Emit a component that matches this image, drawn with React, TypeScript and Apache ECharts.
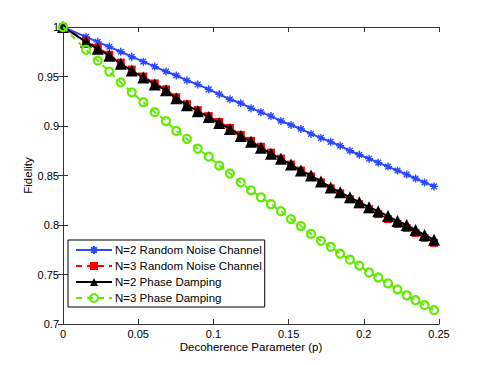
import React, { useEffect, useRef } from "react";
import * as echarts from "echarts";

const pValues = [0, 0.0153, 0.0231, 0.0308, 0.0384, 0.0457, 0.0534, 0.061, 0.0685, 0.0753, 0.0824, 0.0896, 0.0969, 0.1039, 0.111, 0.1182, 0.125, 0.1316, 0.1383, 0.1449, 0.1516, 0.1582, 0.1649, 0.1715, 0.178, 0.1843, 0.1908, 0.197, 0.2035, 0.2096, 0.2161, 0.2224, 0.2285, 0.2344, 0.2404, 0.2467];

const n2Random = [1.0, 0.99, 0.985, 0.98, 0.975, 0.97, 0.965, 0.96, 0.955, 0.951, 0.946, 0.942, 0.937, 0.932, 0.927, 0.923, 0.918, 0.914, 0.91, 0.905, 0.901, 0.897, 0.892, 0.888, 0.884, 0.88, 0.875, 0.871, 0.867, 0.863, 0.859, 0.855, 0.851, 0.847, 0.843, 0.839];

const n3Random = [1.0, 0.986, 0.979, 0.972, 0.964, 0.957, 0.95, 0.943, 0.937, 0.929, 0.922, 0.916, 0.91, 0.904, 0.898, 0.891, 0.885, 0.879, 0.873, 0.867, 0.861, 0.855, 0.849, 0.843, 0.837, 0.832, 0.826, 0.821, 0.816, 0.811, 0.806, 0.801, 0.797, 0.792, 0.787, 0.782];

const n2Phase = [1.0, 0.985, 0.978, 0.971, 0.963, 0.956, 0.949, 0.942, 0.936, 0.928, 0.921, 0.915, 0.909, 0.903, 0.897, 0.89, 0.884, 0.878, 0.872, 0.867, 0.861, 0.855, 0.85, 0.844, 0.838, 0.833, 0.828, 0.823, 0.818, 0.814, 0.809, 0.804, 0.8, 0.795, 0.79, 0.785];

const n3Phase = [1.0, 0.977, 0.966, 0.955, 0.944, 0.934, 0.924, 0.914, 0.905, 0.895, 0.887, 0.877, 0.869, 0.86, 0.852, 0.843, 0.835, 0.828, 0.821, 0.814, 0.806, 0.799, 0.791, 0.784, 0.778, 0.771, 0.765, 0.759, 0.752, 0.747, 0.741, 0.735, 0.729, 0.724, 0.719, 0.714];

const seriesNames = [
  "N=2 Random Noise Channel",
  "N=3 Random Noise Channel",
  "N=2 Phase Damping",
  "N=3 Phase Damping",
];

const xAxisTitle = "Decoherence Parameter (p)";
const yAxisTitle = "Fidelity";

const FONT = "'Liberation Sans', Arial, Helvetica, sans-serif";
const BLUE = "#2a48ff";
const RED = "#ff0000";
const BLACK = "#000000";
const GREEN = "#62ea00";
const AXIS = "#333333";

function pairs(ys: number[]) {
  return pValues.map((x, i) => [x, ys[i]]);
}

export default function App() {
  const ref = useRef<HTMLDivElement>(null);
  useEffect(() => {
    if (!ref.current) return;
    const chart = echarts.init(ref.current, undefined, { renderer: "svg" });
    const axisCommon = {
      axisLine: { show: true, lineStyle: { color: AXIS, width: 1 } },
      axisTick: { show: true, inside: true, length: 5, lineStyle: { color: AXIS } },
      splitLine: { show: false },
    };
    chart.setOption({
      animation: false,
      backgroundColor: "#ffffff",
      grid: { left: 63, top: 27, right: 46, bottom: 41, containLabel: false },
      legend: {
        orient: "vertical",
        left: 68,
        top: 240,
        backgroundColor: "#ffffff",
        borderColor: "#000000",
        borderWidth: 1,
        padding: [4, 3, 3, 7],
        itemWidth: 36,
        itemHeight: 10,
        itemGap: 4,
        textStyle: { fontFamily: FONT, fontSize: 11.5, color: "#000", lineHeight: 12, padding: [0, 0, 0, -2] },
        data: seriesNames,
      },
      xAxis: [
        {
          type: "value",
          min: 0,
          max: 0.25,
          interval: 0.05,
          name: xAxisTitle,
          nameLocation: "middle",
          nameGap: 17,
          nameMoveOverlap: false,
          nameTextStyle: { fontFamily: FONT, fontSize: 11.5, color: "#000" },
          axisLabel: { fontFamily: FONT, fontSize: 11, color: "#000", margin: 4 },
          ...axisCommon,
        },
        {
          type: "value",
          position: "top",
          min: 0,
          max: 0.25,
          interval: 0.05,
          axisLabel: { show: false },
          ...axisCommon,
        },
      ],
      yAxis: [
        {
          type: "value",
          min: 0.7,
          max: 1,
          interval: 0.05,
          name: yAxisTitle,
          nameLocation: "middle",
          nameGap: 29,
          nameMoveOverlap: false,
          nameTextStyle: { fontFamily: FONT, fontSize: 11.5, color: "#000" },
          axisLabel: { fontFamily: FONT, fontSize: 11, color: "#000", margin: 4 },
          ...axisCommon,
        },
        {
          type: "value",
          position: "right",
          min: 0.7,
          max: 1,
          interval: 0.05,
          axisLabel: { show: false },
          ...axisCommon,
        },
      ],
      series: [
        {
          name: seriesNames[0],
          type: "line",
          data: pairs(n2Random),
          color: BLUE,
          symbol: "path://M0,5L10,5M5,0L5,10M1.5,1.5L8.5,8.5M8.5,1.5L1.5,8.5",
          symbolSize: 8,
          showAllSymbol: true,
          lineStyle: { color: BLUE, width: 2 },
          itemStyle: { color: BLUE, borderColor: BLUE, borderWidth: 1.4 },
          z: 2,
        },
        {
          name: seriesNames[1],
          type: "line",
          data: pairs(n3Random),
          color: RED,
          symbol: "rect",
          symbolSize: 8,
          showAllSymbol: true,
          lineStyle: { color: RED, width: 2, type: [6, 5] },
          itemStyle: { color: RED },
          z: 3,
        },
        {
          name: seriesNames[2],
          type: "line",
          data: pairs(n2Phase),
          color: BLACK,
          symbol: "triangle",
          symbolSize: 12,
          showAllSymbol: true,
          lineStyle: { color: BLACK, width: 2 },
          itemStyle: { color: BLACK },
          z: 4,
        },
        {
          name: seriesNames[3],
          type: "line",
          data: pairs(n3Phase),
          color: GREEN,
          symbol: "circle",
          symbolSize: 8,
          showAllSymbol: true,
          lineStyle: { color: GREEN, width: 2, type: [6, 5] },
          itemStyle: { color: "rgba(255,255,255,0)", borderColor: GREEN, borderWidth: 2.2 },
          z: 5,
        },
      ],
    });
    return () => chart.dispose();
  }, []);
  return (
    <div
      ref={ref}
      style={{ position: "fixed", left: 0, top: 0, width: 485, height: 365, background: "#fff" }}
    />
  );
}
